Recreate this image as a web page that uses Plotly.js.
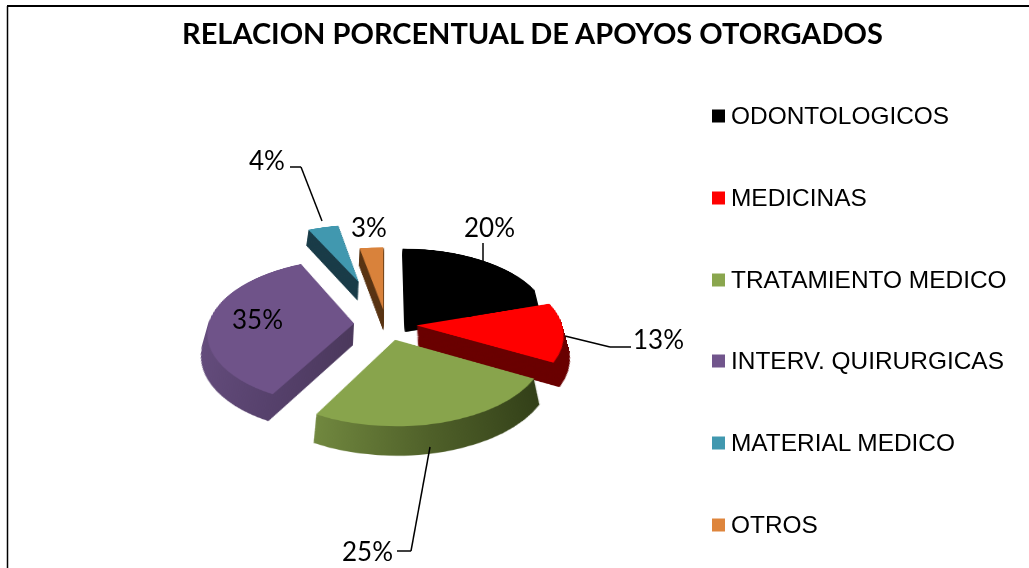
<!DOCTYPE html>
<html><head><meta charset="utf-8">
<script src="https://cdn.plot.ly/plotly-3.0.1.min.js"></script>
<style>html,body{margin:0;padding:0;background:#fff;overflow:hidden}#c{width:1029px;height:568px}</style>
</head><body><div id="c"></div>
<script>
const categories=["ODONTOLOGICOS","MEDICINAS","TRATAMIENTO MEDICO","INTERV. QUIRURGICAS","MATERIAL MEDICO","OTROS"];
const values=[20,13,25,35,4,3];
const topColors=["#000000","#ff0000","#88a44c","#6f5389","#4198af","#d9823b"];
const legendColors=["#000000","#ff0000","#8aa64e","#71558c","#4198af","#de853c"];
const sideColors=["#000000","#6a0000","#4a5a28","#4f3b62","#1a3c48","#5a3515"];
const pulls=[0.22,0.21,0.22,0.22,0.65,0.2];
const labelPos=[[489,227],[658,339],[367,551],[257,319],[267,160],[369,227]];
const legendRows=[115,197,279,360,442,524];
const leaders=[
 [[483,243],[483,261]],
 [[565,336],[610,347],[631,347]],
 [[430,447],[411,551],[397,551]],
 [[290,167],[301,167],[322,221]]];

const W=1029,H=568,cx=386,cy=270,shiftY=54,D=240,layers=40,step=1.05;
const domain=(i)=>({x:[(cx-D)/W,(cx+D)/W],y:[1-(cy+D+i*step)/H,1-(cy-D+i*step)/H]});
const pie=(i,colors)=>({type:"pie",labels:categories,values:values,sort:false,direction:"clockwise",rotation:0,
  pull:pulls,domain:domain(i),textinfo:"none",hoverinfo:"label+percent",showlegend:false,
  marker:{colors:colors,line:{width:0}}});
const traces=[];
for(let i=layers;i>0;i--)traces.push(pie(i,sideColors));
traces.push(pie(0,topColors));

const px=x=>x/W,py=y=>1-y/H;
const total=values.reduce((a,b)=>a+b,0);
const annotations=[{text:"<b>RELACION PORCENTUAL DE APOYOS OTORGADOS</b>",xref:"paper",yref:"paper",x:px(532),y:py(33),
  showarrow:false,xanchor:"center",yanchor:"middle",font:{family:"Lato",size:29,color:"#000"}}];
values.forEach((v,i)=>annotations.push({text:Math.round(v/total*100)+"%",xref:"paper",yref:"paper",x:px(labelPos[i][0]),y:py(labelPos[i][1]),
  showarrow:false,xanchor:"center",yanchor:"middle",font:{family:"Lato",size:26,color:"#000"}}));
categories.forEach((c,i)=>annotations.push({text:c,xref:"paper",yref:"paper",x:px(728.5),y:py(legendRows[i]),
  showarrow:false,xanchor:"left",yanchor:"middle",font:{family:"Liberation Sans",size:24.45,color:"#000"}}));
const shapes=[];
shapes.push({type:"line",xref:"paper",yref:"paper",x0:px(7.5),x1:px(7.5),y0:py(6),y1:py(568),line:{color:"#000",width:1.5}});
shapes.push({type:"line",xref:"paper",yref:"paper",x0:px(7),x1:px(1029),y0:py(6),y1:py(6),line:{color:"#000",width:2}});
leaders.forEach(pts=>{
  for(let j=0;j<pts.length-1;j++)shapes.push({type:"line",xref:"paper",yref:"paper",x0:px(pts[j][0]),y0:py(pts[j][1]),x1:px(pts[j+1][0]),y1:py(pts[j+1][1]),line:{color:"#000",width:1.5}});
});
legendRows.forEach((y,i)=>shapes.push({type:"rect",xref:"paper",yref:"paper",x0:px(712),x1:px(725),y0:py(y-5.5),y1:py(y+7.5),fillcolor:legendColors[i],line:{width:0}}));

Plotly.newPlot("c",traces,{width:W,height:H,margin:{l:0,r:0,t:0,b:0},paper_bgcolor:"rgba(0,0,0,0)",plot_bgcolor:"rgba(0,0,0,0)",
  showlegend:false,annotations:annotations,shapes:shapes},{displayModeBar:false}).then(gd=>{
  const svg=gd.querySelector(".main-svg");
  svg.style.transformOrigin=cx+"px "+cy+"px";
  svg.style.transform="translateY("+shiftY+"px) perspective(1100px) rotateX(60deg)";
  svg.style.overflow="visible";
  const NS="http://www.w3.org/2000/svg";
  const defs=document.createElementNS(NS,"defs");
  const grads={g2:["#71883f","#4f6029","#323f18"],g3:["#644c7c","#56416c","#4b385c"]};
  Object.keys(grads).forEach(id=>{
    const g=document.createElementNS(NS,"linearGradient");g.id=id;
    grads[id].forEach((c,k)=>{const s=document.createElementNS(NS,"stop");s.setAttribute("offset",k/2);s.setAttribute("stop-color",c);g.appendChild(s);});
    defs.appendChild(g);
  });
  svg.insertBefore(defs,svg.firstChild);
  const tr=svg.querySelectorAll(".pielayer .trace");
  tr.forEach((t,n)=>{
    if(n===tr.length-1)return;
    const sl=t.querySelectorAll(".slice path.surface");
    if(sl[2])sl[2].style.fill="url(#g2)";
    if(sl[3])sl[3].style.fill="url(#g3)";
  });
});
</script></body></html>
